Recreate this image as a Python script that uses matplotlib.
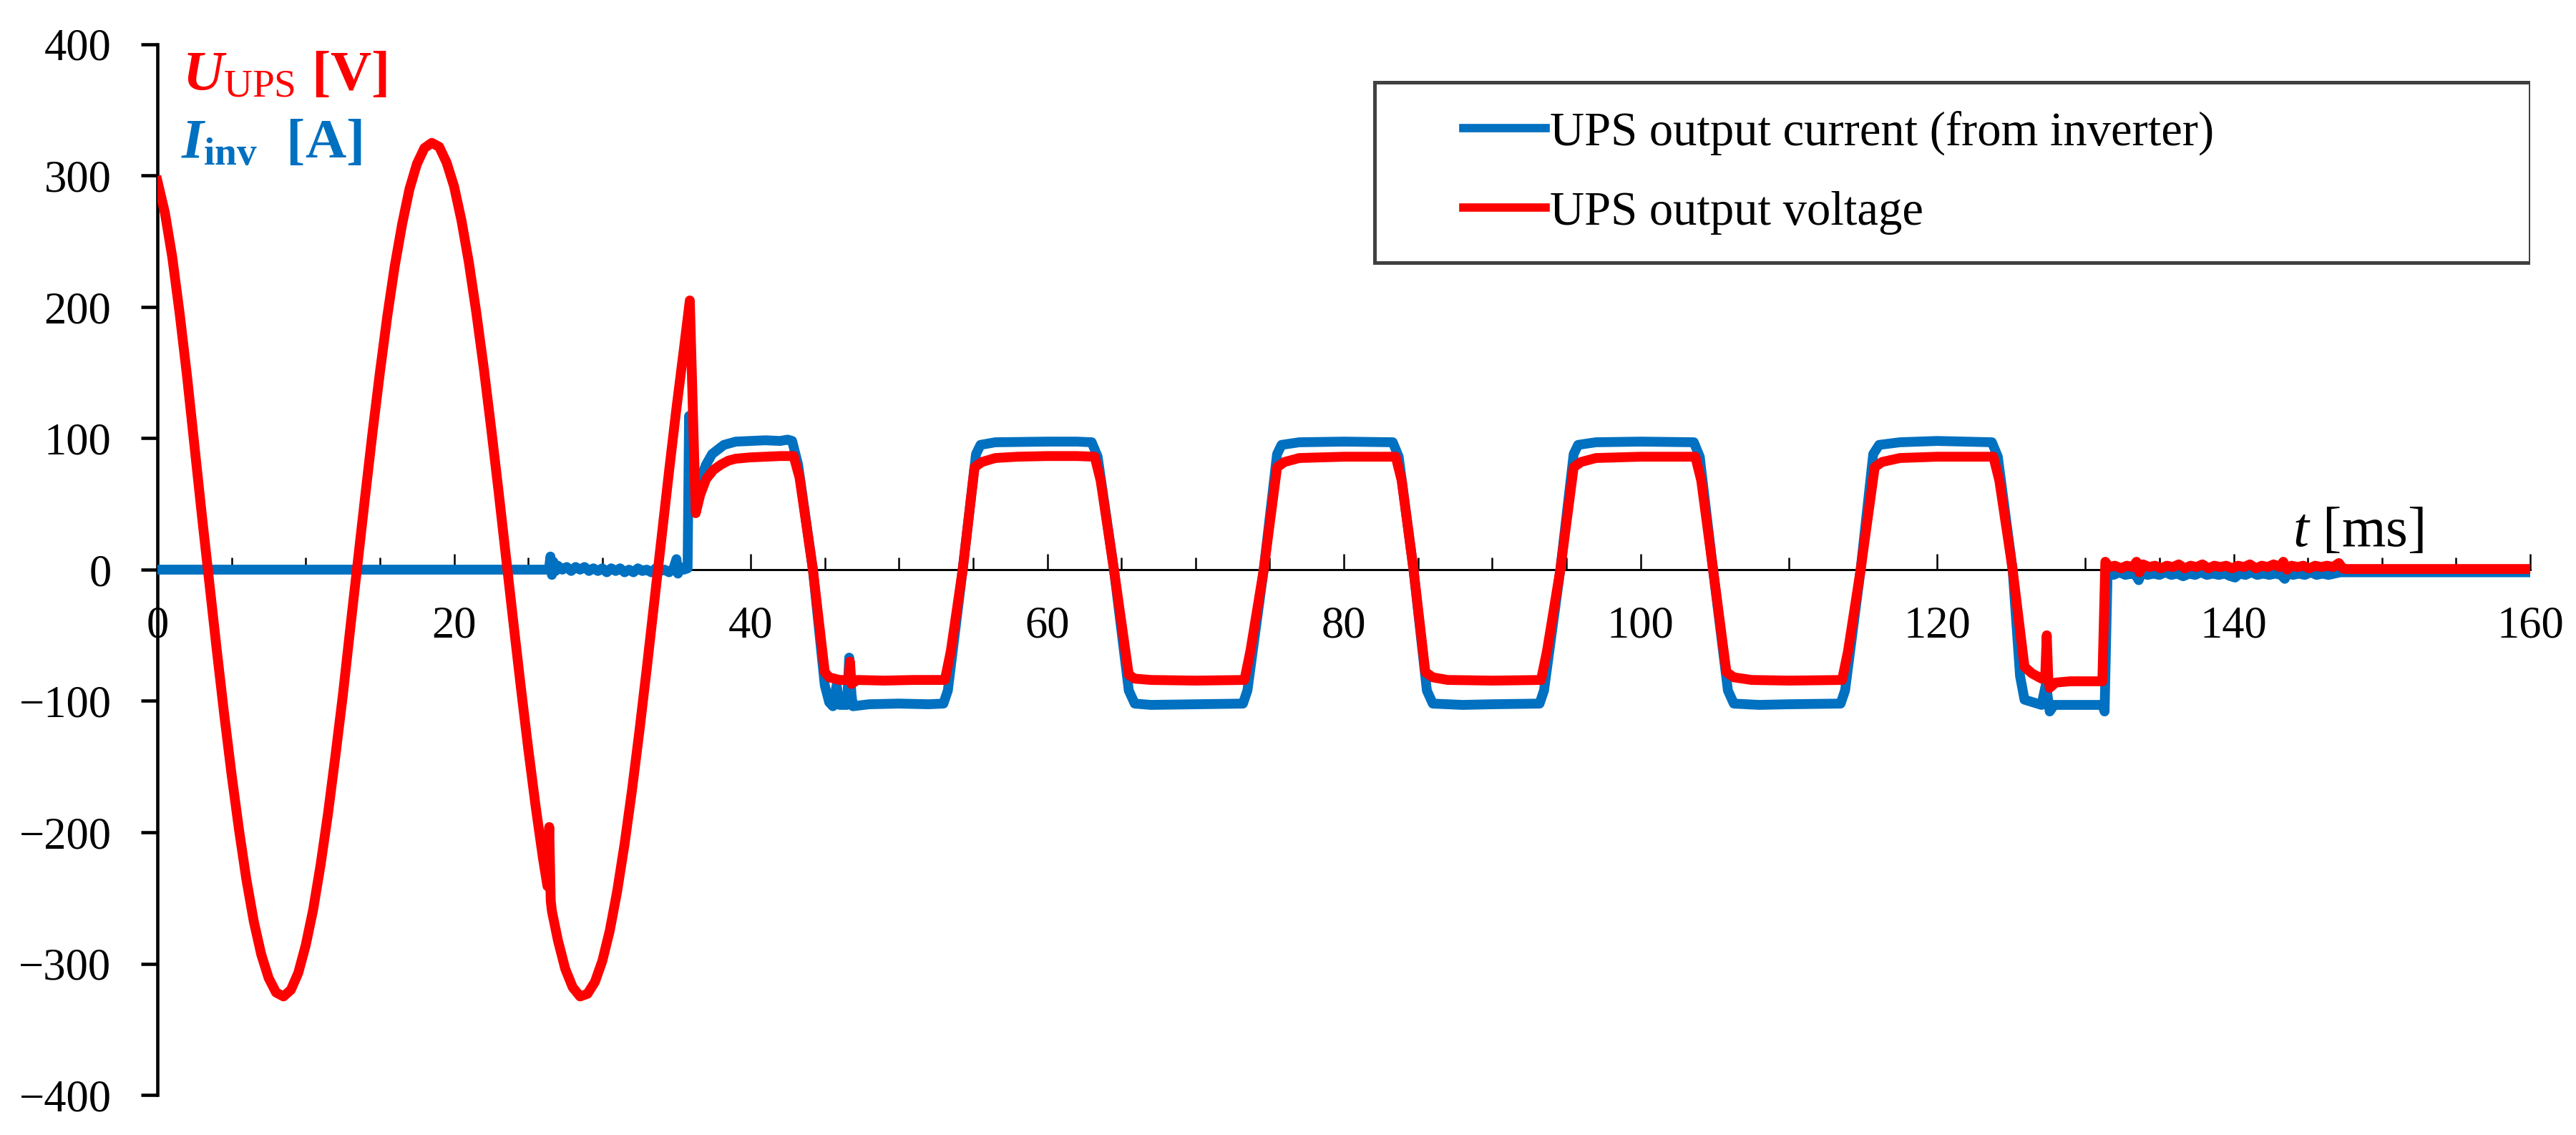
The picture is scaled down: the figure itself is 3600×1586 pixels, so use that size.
import matplotlib
matplotlib.use("Agg")
import matplotlib.pyplot as plt
from matplotlib.patches import Rectangle
from matplotlib.ticker import MultipleLocator

# fonts
plt.rcParams['font.family'] = ['Liberation Serif', 'DejaVu Serif']
plt.rcParams['mathtext.fontset'] = 'custom'
plt.rcParams['mathtext.rm'] = 'Liberation Serif'
plt.rcParams['mathtext.it'] = 'Liberation Serif:italic:bold'
plt.rcParams['mathtext.bf'] = 'Liberation Serif:bold'
plt.rcParams['mathtext.sf'] = 'Liberation Serif:italic'

# --- voltage (t [ms], U [V]) ---
u_sine = [(0, 296), (0.5, 272), (1, 238), (1.5, 195), (2, 147), (2.5, 94), (3, 41), (3.5, -10),
          (4, -61), (4.5, -110), (5, -156), (5.5, -198), (6, -236), (6.5, -268), (7, -293),
          (7.5, -311), (8, -322), (8.5, -325), (9, -320), (9.5, -307), (10, -286), (10.5, -259),
          (11, -225), (11.5, -186), (12, -142), (12.5, -96), (13, -45), (13.5, 5), (14, 55),
          (14.5, 104), (15, 150), (15.5, 193), (16, 231), (16.5, 263), (17, 290), (17.5, 309),
          (18, 321), (18.5, 325), (19, 322), (19.5, 310), (20, 292), (20.5, 266), (21, 234),
          (21.5, 196), (22, 154), (22.5, 108), (23, 60), (23.5, 10), (24, -40), (24.5, -89),
          (25, -136), (25.5, -180), (26, -220), (26.3, -241), (26.42, -196), (26.52, -252),
          (26.6, -260), (27, -282), (27.5, -304), (28, -318), (28.5, -325), (29, -323),
          (29.5, -314), (30, -298), (30.5, -275), (31, -245), (31.5, -209), (32, -168),
          (32.5, -123), (33, -75), (33.5, -25), (34, 25), (34.5, 75), (35, 123), (35.5, 168),
          (35.9, 205)]

u_square = [(36.3, 43), (36.6, 57), (37.0, 69), (37.5, 76), (38.0, 80), (38.5, 83), (39.0, 84.5),
            (40, 85.5), (41, 86), (42, 86.5), (42.9, 86.5), (43.3, 70), (44.2, 0), (45.0, -78),
            (45.3, -82), (46.0, -84), (46.6, -84), (46.7, -70), (46.8, -87), (47.2, -84),
            (49, -84.5), (51, -84), (53.1, -84), (53.5, -62), (54.3, 0), (55.1, 78), (55.6, 82),
            (56.5, 85), (58, 86), (60, 86.5), (62, 86.5), (63.2, 86), (63.6, 68), (64.5, 0),
            (65.5, -80), (65.9, -83), (67, -84), (70, -84.5), (73.3, -84), (73.7, -62),
            (74.6, 0), (75.5, 78), (76.0, 82), (77, 85), (80, 86), (83.5, 86), (83.9, 68),
            (84.7, 0), (85.5, -78), (86.0, -82), (87, -84), (90, -84.5), (93.3, -84),
            (93.7, -62), (94.6, 0), (95.5, 78), (96.0, 82), (97, 85), (100, 86), (103.7, 86),
            (104.1, 68), (104.9, 0), (105.8, -78), (106.3, -82), (107.5, -84), (110, -84.5),
            (113.6, -84), (114.0, -62), (114.85, 0), (115.8, 78), (116.3, 82), (117.5, 85),
            (120, 86), (123.8, 86), (124.2, 68), (125.1, 0), (125.9, -74), (126.4, -79),
            (127.05, -83), (127.3, -80), (127.4, -50), (127.5, -82), (127.6, -90), (128.0, -86),
            (129, -85), (130, -85), (131.15, -85)]

u_tail = [(131.35, 6), (131.6, 2), (132.0, 3), (132.4, 1), (132.8, 3), (133.2, 2), (133.45, 6),
          (133.65, -2), (133.9, 4), (134.3, 2), (134.7, 3), (135.1, 1), (135.5, 3), (135.9, 2),
          (136.3, 4), (136.7, 1), (137.1, 3), (137.5, 2), (137.9, 4), (138.3, 1), (138.7, 3),
          (139.1, 2), (139.5, 3), (139.9, 1), (140.3, 3), (140.7, 2), (141.1, 4), (141.5, 1),
          (141.9, 3), (142.3, 2), (142.7, 4), (143.1, 2), (143.35, 6), (143.6, 0), (143.9, 3),
          (144.3, 2), (144.7, 3), (145.1, 1), (145.5, 3), (145.9, 2), (146.3, 3), (146.7, 2),
          (147.1, 5), (147.35, 1), (147.6, 0.5), (160, 0.5)]

# --- inverter current (t [ms], I [A]) ---
i_idle = [(0, 0), (26.4, 0), (26.5, 10), (26.6, -4), (26.7, 6), (26.85, -1), (27.0, 3), (27.3, 0),
          (27.6, 2), (27.9, -1), (28.2, 2), (28.5, 0), (28.8, 2), (29.1, -1), (29.4, 1),
          (29.7, -1), (30.0, 1), (30.3, -2), (30.6, 1), (30.9, -1), (31.2, 1), (31.5, -2),
          (31.8, 0), (32.1, -2), (32.4, 1), (32.7, -1), (33.0, 0), (33.3, -2), (33.6, 1),
          (33.9, -1), (34.2, 0), (34.5, -2), (34.8, 1), (35.0, 8), (35.1, -3), (35.25, 2),
          (35.5, 0), (35.75, 1)]

i_square = [(35.85, 117), (36.1, 68), (36.5, 66), (37.0, 80), (37.4, 88), (38.2, 95), (39.0, 97.5),
            (40, 98), (41, 98.5), (42, 98), (42.5, 99), (42.8, 98), (43.2, 80), (44.2, 0),
            (45.0, -88), (45.3, -101), (45.55, -104), (45.8, -88), (46.0, -103), (46.5, -103),
            (46.65, -67), (46.8, -95), (46.9, -104), (48, -102.5), (50, -102), (52, -102.5),
            (53.0, -102), (53.3, -92), (54.3, 0), (55.2, 88), (55.5, 95), (56.5, 97), (60, 97.5),
            (62, 97.5), (63.0, 97), (63.4, 86), (64.5, 0), (65.5, -92), (65.9, -102), (67, -103),
            (70, -102.5), (73.2, -102), (73.5, -92), (74.6, 0), (75.5, 88), (75.8, 95), (77, 97),
            (80, 97.5), (83.3, 97), (83.7, 86), (84.7, 0), (85.6, -92), (86.0, -102), (88, -103),
            (90, -102.5), (93.2, -102), (93.5, -92), (94.6, 0), (95.5, 88), (95.8, 95), (97, 97),
            (100, 97.5), (103.6, 97), (104.0, 86), (104.9, 0), (105.9, -92), (106.3, -102),
            (108, -103), (110, -102.5), (113.5, -102), (113.8, -92), (114.85, 0), (115.7, 88),
            (116.1, 95), (117.5, 97), (120, 98), (123.7, 97), (124.1, 86), (125.1, 0),
            (125.6, -81), (125.9, -99), (127.05, -103), (127.35, -87), (127.6, -108),
            (127.9, -103), (129, -103), (130, -103), (131.15, -103), (131.3, -108)]

i_tail = [(131.5, -3), (131.9, -4), (132.3, -2), (132.7, -4), (133.1, -3), (133.4, -4), (133.6, -8),
          (133.8, -2), (134.2, -4), (134.6, -3), (135.0, -4), (135.4, -2), (135.8, -4), (136.2, -3),
          (136.6, -5), (137.0, -3), (137.4, -4), (137.8, -2), (138.2, -4), (138.6, -3), (139.0, -4),
          (139.4, -3), (139.8, -5), (140.1, -6), (140.4, -3), (140.8, -4), (141.2, -2), (141.6, -4),
          (142.0, -3), (142.4, -4), (142.8, -3), (143.2, -4), (143.45, -7), (143.7, -2),
          (144.0, -4), (144.4, -3), (144.8, -4), (145.2, -2), (145.6, -4), (146.0, -3),
          (146.4, -4), (146.8, -3), (147.2, -2), (147.5, -2), (160, -2)]

x_ticks = list(range(0, 161, 20))
y_ticks = list(range(-400, 401, 100))
legend_labels = ['UPS output current (from inverter)', 'UPS output voltage']

RED = '#FF0000'
BLUE = '#0070C0'

t_u, u_ups = zip(*(u_sine + u_square + u_tail))
t_i, i_inv = zip(*(i_idle + i_square + i_tail))

fig = plt.figure(figsize=(12, 1586 / 300), dpi=300)
ax = fig.add_axes([220 / 3600, 1 - 1530 / 1586, 3316 / 3600, 1468 / 1586])

line_i, = ax.plot(t_i, i_inv, color=BLUE, lw=3.3, solid_joinstyle='round', zorder=3)
line_u, = ax.plot(t_u, u_ups, color=RED, lw=3.3, solid_joinstyle='round', zorder=4)

ax.set_xlim(0, 160)
ax.set_ylim(-400, 400)

# axes look: y axis at left, x axis through zero
ax.spines['top'].set_visible(False)
ax.spines['right'].set_visible(False)
ax.spines['bottom'].set_position(('data', 0))
ax.spines['bottom'].set_linewidth(0.7)
ax.spines['left'].set_linewidth(1.1)
ax.spines['bottom'].set_zorder(2)

ax.set_xticks(x_ticks)
ax.xaxis.set_minor_locator(MultipleLocator(5))
ax.set_yticks(y_ticks)
ax.tick_params(axis='x', which='major', direction='in', length=5.3, width=0.6, pad=12, labelsize=15)
ax.tick_params(axis='x', which='minor', direction='in', length=4.0, width=0.6)
ax.tick_params(axis='y', which='major', direction='out', length=5.5, width=1.1, pad=10, labelsize=15)

# axis captions inside the plot
ax.text(1.7, 366, r'$\mathit{U}_{\mathrm{UPS}}$ [V]', color=RED, fontsize=19, fontweight='bold')
ax.text(1.6, 313, r'$\mathit{I}_{\mathbf{inv}}$  [A]', color=BLUE, fontsize=19, fontweight='bold')
ax.text(144.0, 18, r'$\mathsf{t}$ [ms]', color='black', fontsize=19)

# legend box drawn separately so that the frame is wider than the text
ax.add_patch(Rectangle((0.513, 0.792), 0.487, 0.172, transform=ax.transAxes,
                       facecolor='white', edgecolor='#404040', lw=1.2, zorder=5))
leg = ax.legend([line_i, line_u], legend_labels, loc='center left',
                bbox_to_anchor=(0.5504, 0.878), frameon=False, fontsize=16,
                borderpad=0, borderaxespad=0, handlelength=1.72, handletextpad=0.1,
                labelspacing=0.75)
leg.set_zorder(6)
for h in leg.legend_handles:
    h.set_linewidth(2.8)

fig.savefig('out.png', dpi=300)
